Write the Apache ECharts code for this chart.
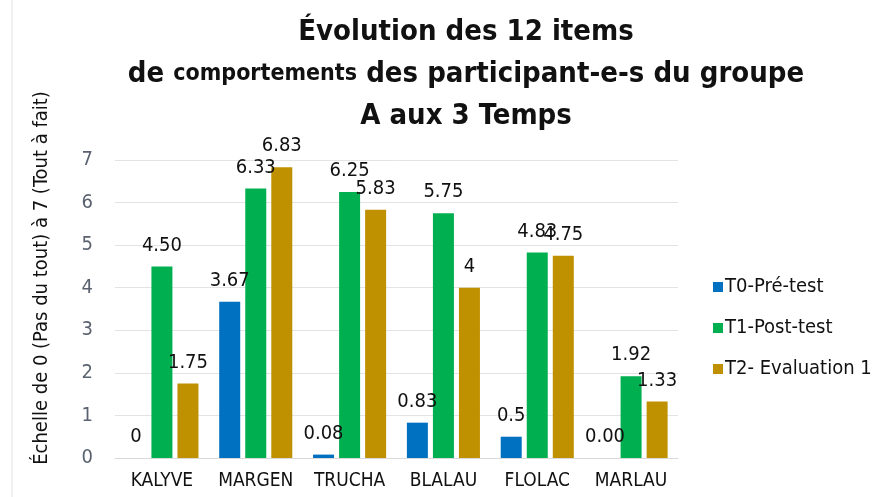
<!DOCTYPE html>
<html>
<head>
<meta charset="utf-8">
<script src="https://cdn.jsdelivr.net/npm/echarts@6/dist/echarts.min.js"></script>
<style>
  html, body { margin: 0; padding: 0; background: #fff; }
  #chart { width: 894px; height: 497px; }
</style>
</head>
<body>
<div id="chart"></div>
<script>
// données
const categories = ['KALYVE', 'MARGEN', 'TRUCHA', 'BLALAU', 'FLOLAC', 'MARLAU'];
const seriesNames = ['T0-Pré-test', 'T1-Post-test', 'T2- Evaluation 1'];
const t0Values = [0, 3.67, 0.08, 0.83, 0.5, 0];
const t1Values = [4.5, 6.33, 6.25, 5.75, 4.83, 1.92];
const t2Values = [1.75, 6.83, 5.83, 4, 4.75, 1.33];
// étiquettes telles qu'affichées (format Excel)
const t0Labels = ['0', '3.67', '0.08', '0.83', '0.5', '0.00'];
const t1Labels = ['4.50', '6.33', '6.25', '5.75', '4.83', '1.92'];
const t2Labels = ['1.75', '6.83', '5.83', '4', '4.75', '1.33'];
const yTicks = [0, 1, 2, 3, 4, 5, 6, 7];
const yTitle = 'Échelle de 0 (Pas du tout) à 7 (Tout à fait)';

const colors = ['#0070C0', '#00B050', '#BF9000'];
const font = "'Liberation Sans Narrow', 'DejaVu Sans Condensed', 'Open Sans', sans-serif";

let myChart = echarts.init(document.getElementById('chart'));

function makeSeries(i, values, labels) {
    return {
        name: seriesNames[i],
        type: 'bar',
        data: values,
        barWidth: 21,
        barGap: '24%',
        itemStyle: { color: colors[i] },
        label: {
            show: true,
            position: 'top',
            distance: 11,
            color: '#111',
            fontSize: 20,
            fontFamily: font,
            formatter: function (p) { return labels[p.dataIndex]; }
        }
    };
}

myChart.setOption({
    animation: false,
    textStyle: { fontFamily: font },
    title: {
        left: 461,
        textAlign: 'center',
        top: 6,
        text: '{a|Évolution des 12 items}\n{a|de }{b|comportements}{a| des participant-e-s du groupe}\n{a|A aux 3 Temps}',
        textStyle: {
            rich: {
                a: { fontSize: 29, fontWeight: 'bold', color: '#111', fontFamily: font, lineHeight: 42 },
                b: { fontSize: 23, fontWeight: 'bold', color: '#111', fontFamily: font, lineHeight: 42 }
            }
        }
    },
    legend: {
        orient: 'vertical',
        left: 708,
        top: 272,
        itemGap: 21,
        itemWidth: 10,
        itemHeight: 10,
        icon: 'rect',
        textStyle: { fontSize: 20, color: '#111', fontFamily: font, padding: [0, 0, 0, -3] },
        data: seriesNames
    },
    grid: { left: 115, right: 216, top: 160, bottom: 39, outerBoundsMode: 'none', containLabel: false },
    xAxis: {
        type: 'category',
        data: categories,
        axisLine: { show: true, lineStyle: { color: '#d9d9d9' } },
        axisTick: { show: false },
        axisLabel: { color: '#111', fontSize: 19, margin: 14, interval: 0, fontFamily: font }
    },
    yAxis: {
        type: 'value',
        min: 0,
        max: 7,
        interval: 1,
        axisLabel: {
            color: '#5a6270', fontSize: 20, margin: 22, fontFamily: font,
            formatter: function (v) { return yTicks.indexOf(v) >= 0 ? String(v) : ''; }
        },
        splitLine: { lineStyle: { color: '#e3e3e3' } }
    },
    graphic: [{
        type: 'line',
        shape: { x1: 12, y1: 0, x2: 12, y2: 497 },
        style: { stroke: '#e0e0e0', lineWidth: 1 }
    }, {
        type: 'text',
        x: 42,
        y: 278,
        rotation: Math.PI / 2,
        style: {
            text: yTitle,
            fontSize: 20,
            fontFamily: font,
            fill: '#111',
            textAlign: 'center',
            textVerticalAlign: 'middle'
        }
    }],
    series: [
        makeSeries(0, t0Values, t0Labels),
        makeSeries(1, t1Values, t1Labels),
        makeSeries(2, t2Values, t2Labels)
    ]
});
</script>
</body>
</html>
